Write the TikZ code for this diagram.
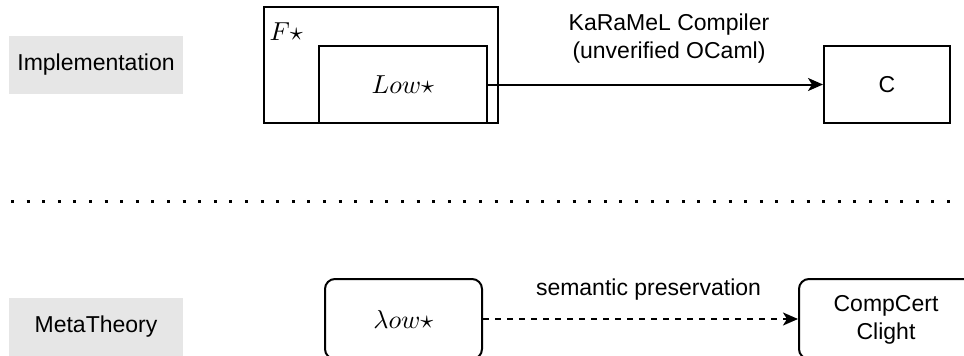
\documentclass[tikz,border=0pt]{standalone}
\usepackage{fontspec}
\newfontfamily\labfont{Liberation Sans}
\usetikzlibrary{arrows.meta}
\definecolor{lanegray}{HTML}{E6E6E6}
\tikzset{
  lane/.style={fill=lanegray, draw=none, minimum width=174pt, minimum height=58pt, inner sep=0pt,
    font=\labfont\fontsize{23}{28}\selectfont},
  sqbox/.style={draw=black, line width=2pt, inner sep=0pt},
  rbox/.style={draw=black, line width=2pt, rounded corners=10pt, inner sep=0pt},
  lab/.style={font=\labfont\fontsize{23}{28}\selectfont, inner sep=0pt, align=center, text=black},
  mth/.style={font=\normalsize, scale=2.6, inner sep=0pt},
  conn/.style={line width=2pt, -{Stealth[length=15pt, width=13pt, inset=4pt]}},
}
\begin{document}
\begin{tikzpicture}[x=1pt, y=-1pt]
\useasboundingbox (0,0) rectangle (964,356);

% lane labels
\node[lane] (impl) at (96,65) {Implementation};
\node[lane] (meta) at (96,326.5) {MetaTheory};

% separator
\coordinate (sepL) at (11,201.5);
\coordinate (sepR) at (962,201.5);
\draw[line width=3pt, dash pattern=on 3pt off 12.6pt] (sepL) -- (sepR);

% implementation row
\node[sqbox, minimum width=234pt, minimum height=116pt] (fstar) at (381,65) {};
\node[mth, anchor=base west] (fstarlab) at (269,40) {$F\star$};
\node[sqbox, minimum width=168pt, minimum height=77pt, fill=white] (low) at (403,84.5) {};
\node[mth] (lowlab) at (403,84.5) {$Low\star$};
\node[sqbox, minimum width=126pt, minimum height=77pt] (c) at (887,84.5) {};
\node[lab] (clab) at (887,84.5) {C};
\draw[conn] (low.east) -- (c.west);
\node[lab, anchor=south] (karamel) at (669,63) {KaRaMeL Compiler\\(unverified OCaml)};

% metatheory row
\node[rbox, minimum width=157pt, minimum height=80pt] (lowb) at (403.5,319) {};
\node[mth] (lowblab) at (403.5,319) {$\lambda ow\star$};
\node[rbox, minimum width=174pt, minimum height=80pt] (cc) at (886,319) {};
\node[lab] (cclab) at (886,320) {CompCert\\Clight};
\draw[conn, dash pattern=on 6pt off 6pt] (lowb.east) -- (cc.west);
\node[lab, anchor=base] (sem) at (648.5,295) {semantic preservation};
\end{tikzpicture}
\end{document}
